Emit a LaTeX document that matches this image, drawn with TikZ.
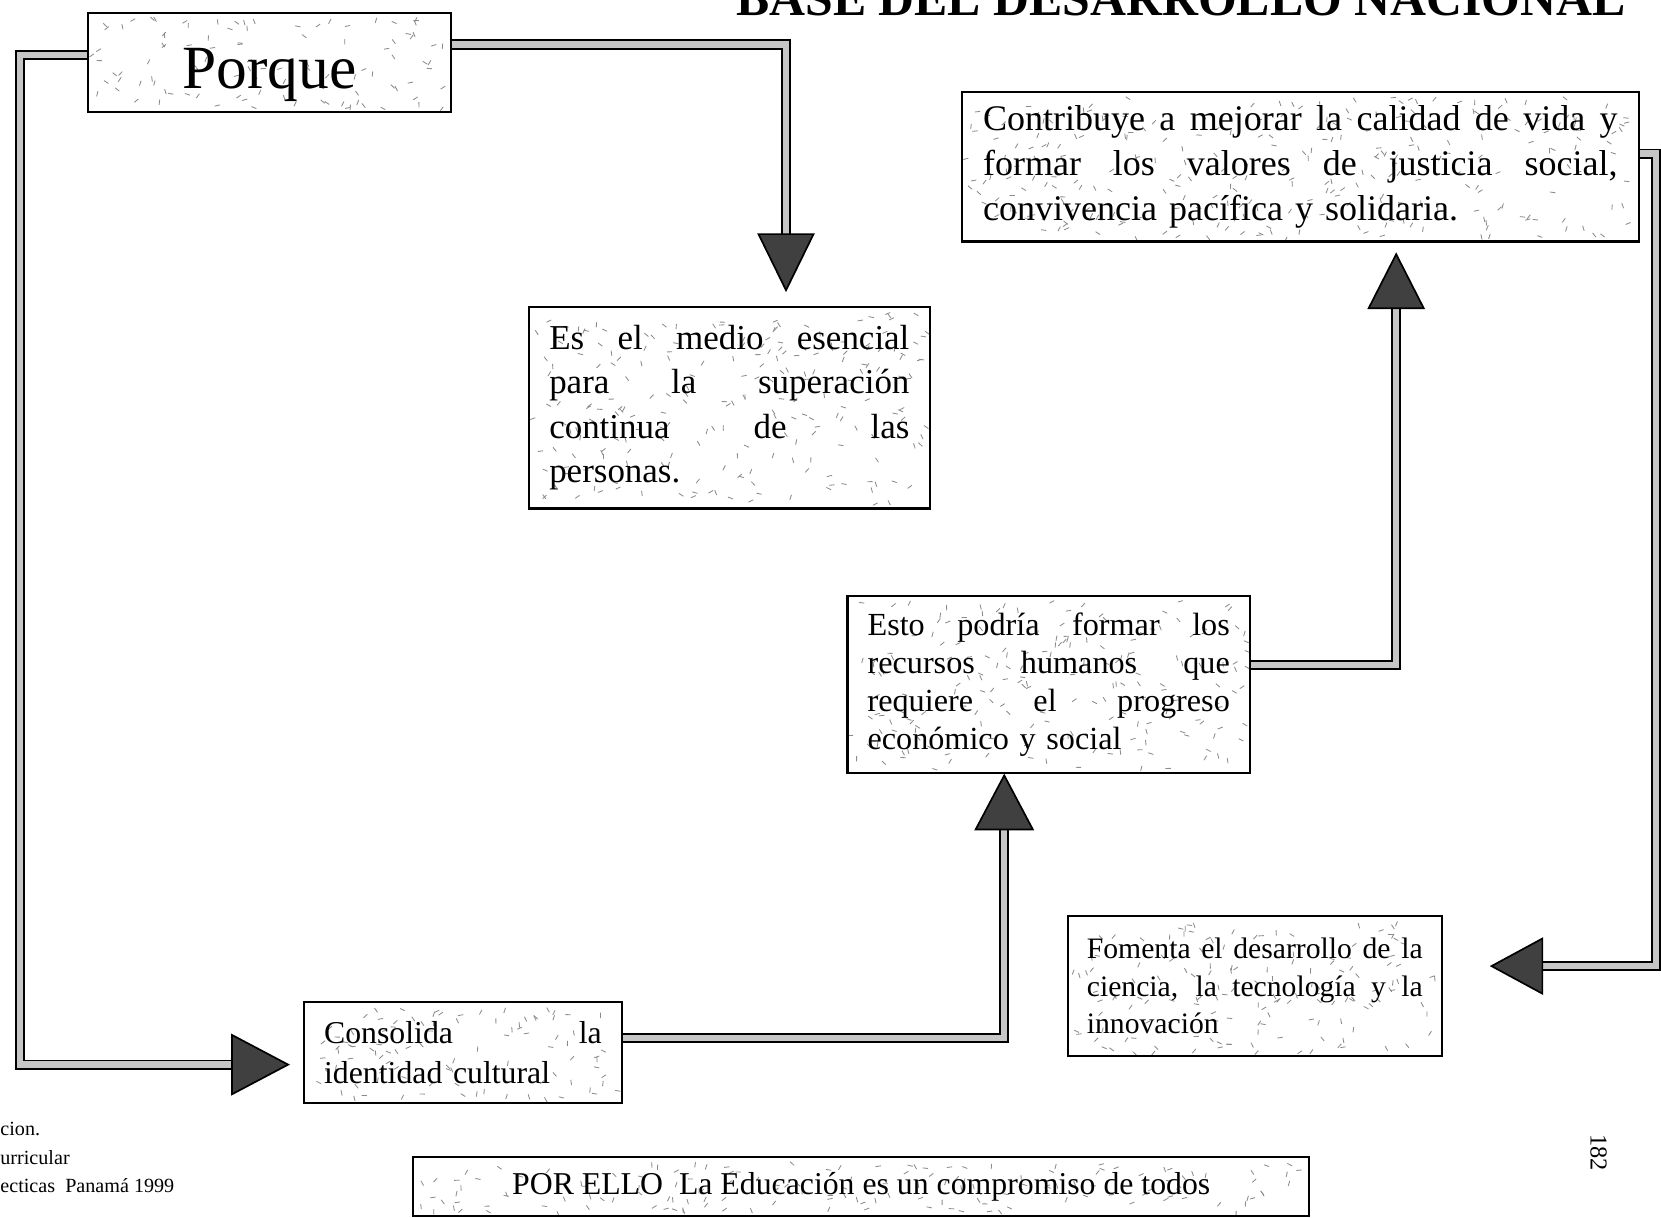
\documentclass[tikz,border=0pt]{standalone}
\usepackage{fontspec}
\setmainfont{Liberation Serif}
\newcommand{\jline}[2]{\noindent\hbox to #1{\spaceskip=0.25em plus 1fil\xspaceskip=0.3em plus 1fil\relax #2}}
\tikzset{
  box/.style={draw=black, line width=1pt, inner sep=0pt, align=left},
  conn/.style={draw=black, line width=0.9pt, double=gray!45, double distance=3pt, line join=miter},
  head/.style={draw=black, line width=0.8pt, fill=black!75, line join=miter},
  foot/.style={anchor=base west, inner sep=0pt, font=\fontsize{9.5}{11}\selectfont},
  speckmark/.style={draw=black!45, line width=0.4pt}
}
\newcommand{\speck}[5]{%
  \foreach \k in {1,...,#5}{%
    \pgfmathsetmacro{\px}{#1+4+(#3-#1-8)*rnd}%
    \pgfmathsetmacro{\py}{#2+4+(#4-#2-8)*rnd}%
    \pgfmathsetmacro{\pa}{rnd*180}%
    \draw[speckmark] (\px,\py) -- ++(\pa:5);
  }}
\begin{document}
\begin{tikzpicture}[x=0.5pt,y=-0.5pt]
\useasboundingbox[fill=white] (0,0) rectangle (1568,1149);
\pgfmathsetseed{4242}

% texture of the boxes
\speck{83}{12}{426}{106}{110}
\speck{499}{290}{878}{480}{220}
\speck{908}{87}{1547}{228}{280}
\speck{800}{563}{1180}{730}{200}
\speck{1008}{865}{1361}{997}{150}
\speck{287}{946}{587}{1041}{100}
\speck{390}{1092}{1236}{1148}{160}

% title (cut by the top edge, as in the scan)
\node[anchor=base east, inner sep=0pt, font=\fontsize{23.5}{28}\selectfont\bfseries] (title) at (1535,15) {BASE DEL DESARROLLO NACIONAL};

% boxes
\node[box, minimum width=171.5pt, minimum height=47pt, font=\fontsize{29}{34}\selectfont] (porque) at (254.5,59) {\rule{0pt}{31pt}Porque};

\node[box, minimum width=189.5pt, minimum height=95pt, text width=170pt, font=\fontsize{16.5}{21}\selectfont] (medio) at (688.5,385)
{\jline{170pt}{Es el medio esencial}\\ \jline{170pt}{para la superación}\\ \jline{170pt}{continua de las}\\ personas.};

\node[box, minimum width=319.5pt, minimum height=70.5pt, text width=299.5pt, font=\fontsize{17}{21.25}\selectfont] (contrib) at (1227.5,157.5)
{\jline{299.5pt}{Contribuye a mejorar la calidad de vida y}\\ \jline{299.5pt}{formar los valores de justicia social,}\\ convivencia pacífica y solidaria.};

\node[box, minimum width=190pt, minimum height=83.5pt, text width=171pt, font=\fontsize{15.2}{18}\selectfont] (esto) at (990,646.5)
{\jline{171pt}{Esto podría formar los}\\ \jline{171pt}{recursos humanos que}\\ \jline{171pt}{requiere el progreso}\\ económico y social};

\node[box, minimum width=176.5pt, minimum height=66pt, text width=158.5pt, font=\fontsize{14}{17.75}\selectfont] (fomenta) at (1184.5,931)
{\jline{158.5pt}{Fomenta el desarrollo de la}\\ \jline{158.5pt}{ciencia, la tecnología y la}\\ innovación};

\node[box, minimum width=150pt, minimum height=47.5pt, text width=131pt, font=\fontsize{15}{19}\selectfont] (consol) at (437,993.5)
{\jline{131pt}{Consolida la}\\ identidad cultural};

\node[box, line width=0.8pt, minimum width=423pt, minimum height=28pt, font=\fontsize{15}{18}\selectfont] (porello) at (813,1120)
{POR ELLO\ \ La Educación es un compromiso de todos};

% footnote and page number
\node[foot] (foot1) at (0,1072) {cion.};
\node[foot] (foot2) at (0,1099) {urricular};
\node[foot] (foot3) at (0,1126) {ecticas\ \ Panamá 1999};
\node[rotate=-90, inner sep=0pt, font=\fontsize{11.5}{13}\selectfont] (pagenum) at (1509,1088) {182};

% connector coordinates
\coordinate (c1) at (19,52);
\coordinate (a1base) at (219,1005);
\coordinate (a1tip) at (272,1005);
\coordinate (c2) at (742,42);
\coordinate (a2base) at (742,222);
\coordinate (a2tip) at (742,274);
\coordinate (c3) at (948,980);
\coordinate (a3base) at (948,782);
\coordinate (a3tip) at (948,732);
\coordinate (c4) at (1318,628);
\coordinate (a4base) at (1318,290);
\coordinate (a4tip) at (1318,240);
\coordinate (c5a) at (1563,145);
\coordinate (c5b) at (1563,912);
\coordinate (a5base) at (1455,912);
\coordinate (a5tip) at (1408,912);

% connectors
\draw[conn] (porque.west |- c1) -- (c1) |- (a1base);
\draw[conn] (porque.east |- c2) -- (c2) -- (a2base);
\draw[conn] (consol.east |- c3) -- (c3) -- (a3base);
\draw[conn] (esto.east |- c4) -- (c4) -- (a4base);
\draw[conn] (contrib.east |- c5a) -- (c5a) -- (c5b) -- (a5base);

% arrow heads
\draw[head] (a1tip) -- ++(-53,-28) -- ++(0,56) -- cycle;
\draw[head] (a2tip) -- ++(-26,-53) -- ++(52,0) -- cycle;
\draw[head] (a3tip) -- ++(-27,51) -- ++(54,0) -- cycle;
\draw[head] (a4tip) -- ++(-26,51) -- ++(52,0) -- cycle;
\draw[head] (a5tip) -- ++(48,-26) -- ++(0,52) -- cycle;
\end{tikzpicture}
\end{document}
